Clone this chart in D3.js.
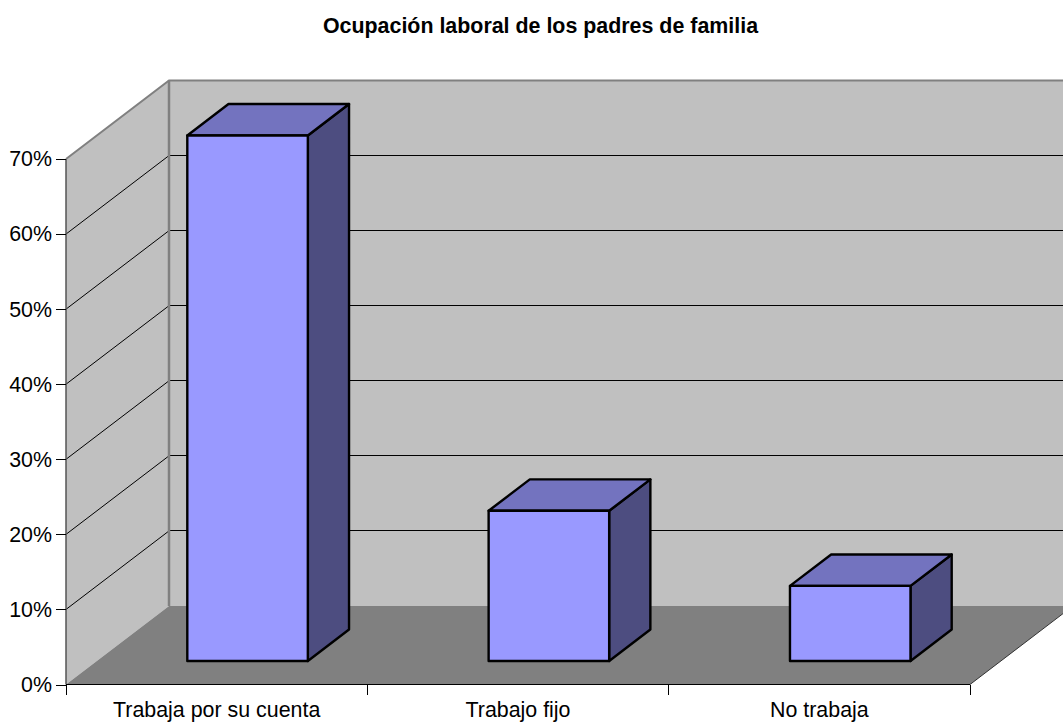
<!DOCTYPE html>
<html>
<head>
<meta charset="utf-8">
<script src="https://cdn.jsdelivr.net/npm/d3@7"></script>
<style>
  html, body { margin: 0; padding: 0; background: #fff; }
  svg { display: block; }
  text { font-family: "Liberation Sans", Arial, sans-serif; fill: #000; }
  .axis path { display: none; }
  .axis line { stroke: #000; stroke-width: 1; shape-rendering: crispEdges; }
  .axis text { font-size: 21.4px; }
</style>
</head>
<body>
<div id="chart"></div>
<script>
// --------------------------------------
//  Data
// --------------------------------------

const chartTitle = "Ocupación laboral de los padres de familia";
const categories = ["Trabaja por su cuenta", "Trabajo fijo", "No trabaja"];
const values = [70, 20, 10];
const yTicks = [0, 10, 20, 30, 40, 50, 60, 70];

// --------------------------------------
//  Margin and canvas
// --------------------------------------

const width = 1063;
const height = 722;
const plotLeft = 66, plotRight = 970, plotBottom = 684.5, plotTop = 159;
const depthX = 103, depthY = 78.5;   // 3D shift of the back wall
const barFront = 0.3, barBack = 0.7; // bar position in the depth

const svg = d3.select("#chart")
  .append("svg")
    .attr("width", width)
    .attr("height", height)
    .attr("viewBox", `0 0 ${width} ${height}`);

// --------------------------------------
//  Scales
// --------------------------------------

const x = d3.scaleBand()
    .domain(categories)
    .range([plotLeft, plotRight])
    .paddingInner(0.6)
    .paddingOuter(0.3);

const xAll = d3.scaleBand()
    .domain(categories)
    .range([plotLeft, plotRight]);

const y = d3.scaleLinear()
    .domain([0, 70])
    .range([plotBottom, plotTop]);

// a point on the chart box, depth 0 = front, 1 = back
const pt = (px, py, depth) => [px + depth * depthX, py - depth * depthY];
const pathLine = d3.line();
const poly = pts => pathLine(pts) + "Z";

// --------------------------------------
//  Walls and floor
// --------------------------------------

svg.append("path")
    .attr("d", poly([pt(plotLeft, y(0), 0), pt(plotLeft, y(0), 1), pt(plotLeft, plotTop, 1), pt(plotLeft, plotTop, 0)]))
    .attr("fill", "#c0c0c0");

svg.append("path")
    .attr("d", poly([pt(plotLeft, y(0), 1), pt(plotRight, y(0), 1), pt(plotRight, plotTop, 1), pt(plotLeft, plotTop, 1)]))
    .attr("fill", "#c0c0c0");

svg.append("path")
    .attr("d", poly([pt(plotLeft, y(0), 0), pt(plotRight, y(0), 0), pt(plotRight, y(0), 1), pt(plotLeft, y(0), 1)]))
    .attr("fill", "#808080");

// Gridlines
const grid = svg.append("g");
const gridTicks = yTicks.filter(d => d > 0 && d < 70);

grid.selectAll(".grid-side")
    .data(gridTicks)
    .join("line")
    .attr("class", "grid-side")
    .attr("x1", plotLeft)
    .attr("y1", d => y(d))
    .attr("x2", plotLeft + depthX)
    .attr("y2", d => y(d) - depthY)
    .attr("stroke", "#000")
    .attr("stroke-width", 1);

grid.selectAll(".grid-back")
    .data(gridTicks)
    .join("line")
    .attr("class", "grid-back")
    .attr("x1", plotLeft + depthX)
    .attr("y1", d => y(d) - depthY)
    .attr("x2", plotRight + depthX)
    .attr("y2", d => y(d) - depthY)
    .attr("stroke", "#000")
    .attr("stroke-width", 1)
    .attr("shape-rendering", "crispEdges");

// Wall edges
svg.append("path")
    .attr("d", pathLine([pt(plotLeft, plotTop, 0), pt(plotLeft, plotTop, 1), pt(plotRight, plotTop, 1)]))
    .attr("fill", "none")
    .attr("stroke", "#808080")
    .attr("stroke-width", 2);

svg.append("path")
    .attr("d", pathLine([pt(plotLeft, plotTop, 1), pt(plotLeft, y(0), 1)]))
    .attr("fill", "none")
    .attr("stroke", "#808080")
    .attr("stroke-width", 2.5);

// Floor right edge and side axis edge
svg.append("path")
    .attr("d", pathLine([pt(plotRight, y(0), 0), pt(plotRight, y(0), 1)]))
    .attr("fill", "none")
    .attr("stroke", "#333")
    .attr("stroke-width", 1);

svg.append("path")
    .attr("d", pathLine([[plotLeft, plotTop], [plotLeft, y(0)]]))
    .attr("fill", "none")
    .attr("stroke", "#555")
    .attr("stroke-width", 1.5);

// --------------------------------------
//  Bars
// --------------------------------------

const bars = svg.append("g")
    .selectAll("g")
    .data(categories.map((c, i) => ({c: c, v: values[i]})))
    .join("g")
    .attr("stroke", "#000")
    .attr("stroke-width", 2.4)
    .attr("stroke-linejoin", "round");

const x0 = d => x(d.c);
const x1 = d => x(d.c) + x.bandwidth();

// side
bars.append("path")
    .attr("fill", "#4d4d80")
    .attr("d", d => poly([
      pt(x1(d), y(0), barFront), pt(x1(d), y(0), barBack),
      pt(x1(d), y(d.v), barBack), pt(x1(d), y(d.v), barFront)
    ]));

// top
bars.append("path")
    .attr("fill", "#7373bf")
    .attr("d", d => poly([
      pt(x0(d), y(d.v), barFront), pt(x1(d), y(d.v), barFront),
      pt(x1(d), y(d.v), barBack), pt(x0(d), y(d.v), barBack)
    ]));

// front
bars.append("path")
    .attr("fill", "#9999ff")
    .attr("d", d => poly([
      pt(x0(d), y(0), barFront), pt(x1(d), y(0), barFront),
      pt(x1(d), y(d.v), barFront), pt(x0(d), y(d.v), barFront)
    ]));

// --------------------------------------
//  Axes
// --------------------------------------

svg.append("g")
    .attr("class", "axis")
    .attr("transform", `translate(${plotLeft}, 0)`)
    .call(d3.axisLeft(y)
        .tickValues(yTicks)
        .tickFormat(d => d + "%")
        .tickSize(10)
        .tickPadding(4));

svg.append("g")
    .attr("class", "axis")
    .attr("transform", `translate(0, ${plotBottom})`)
    .call(d3.axisBottom(xAll)
        .tickSize(0)
        .tickPadding(17.6));

// bottom line and separators between the categories
svg.append("line")
    .attr("x1", plotLeft)
    .attr("x2", plotRight)
    .attr("y1", plotBottom)
    .attr("y2", plotBottom)
    .attr("stroke", "#000")
    .attr("shape-rendering", "crispEdges");

svg.append("g")
    .selectAll("line")
    .data([0, 1, 2, 3])
    .join("line")
    .attr("x1", d => plotLeft + d * xAll.step())
    .attr("x2", d => plotLeft + d * xAll.step())
    .attr("y1", plotBottom)
    .attr("y2", plotBottom + 10)
    .attr("stroke", "#000")
    .attr("shape-rendering", "crispEdges");

// --------------------------------------
//  Title
// --------------------------------------

svg.append("text")
    .attr("x", 540.5)
    .attr("y", 32.5)
    .attr("text-anchor", "middle")
    .attr("font-size", "21.4px")
    .attr("font-weight", "bold")
    .text(chartTitle);
</script>
</body>
</html>
